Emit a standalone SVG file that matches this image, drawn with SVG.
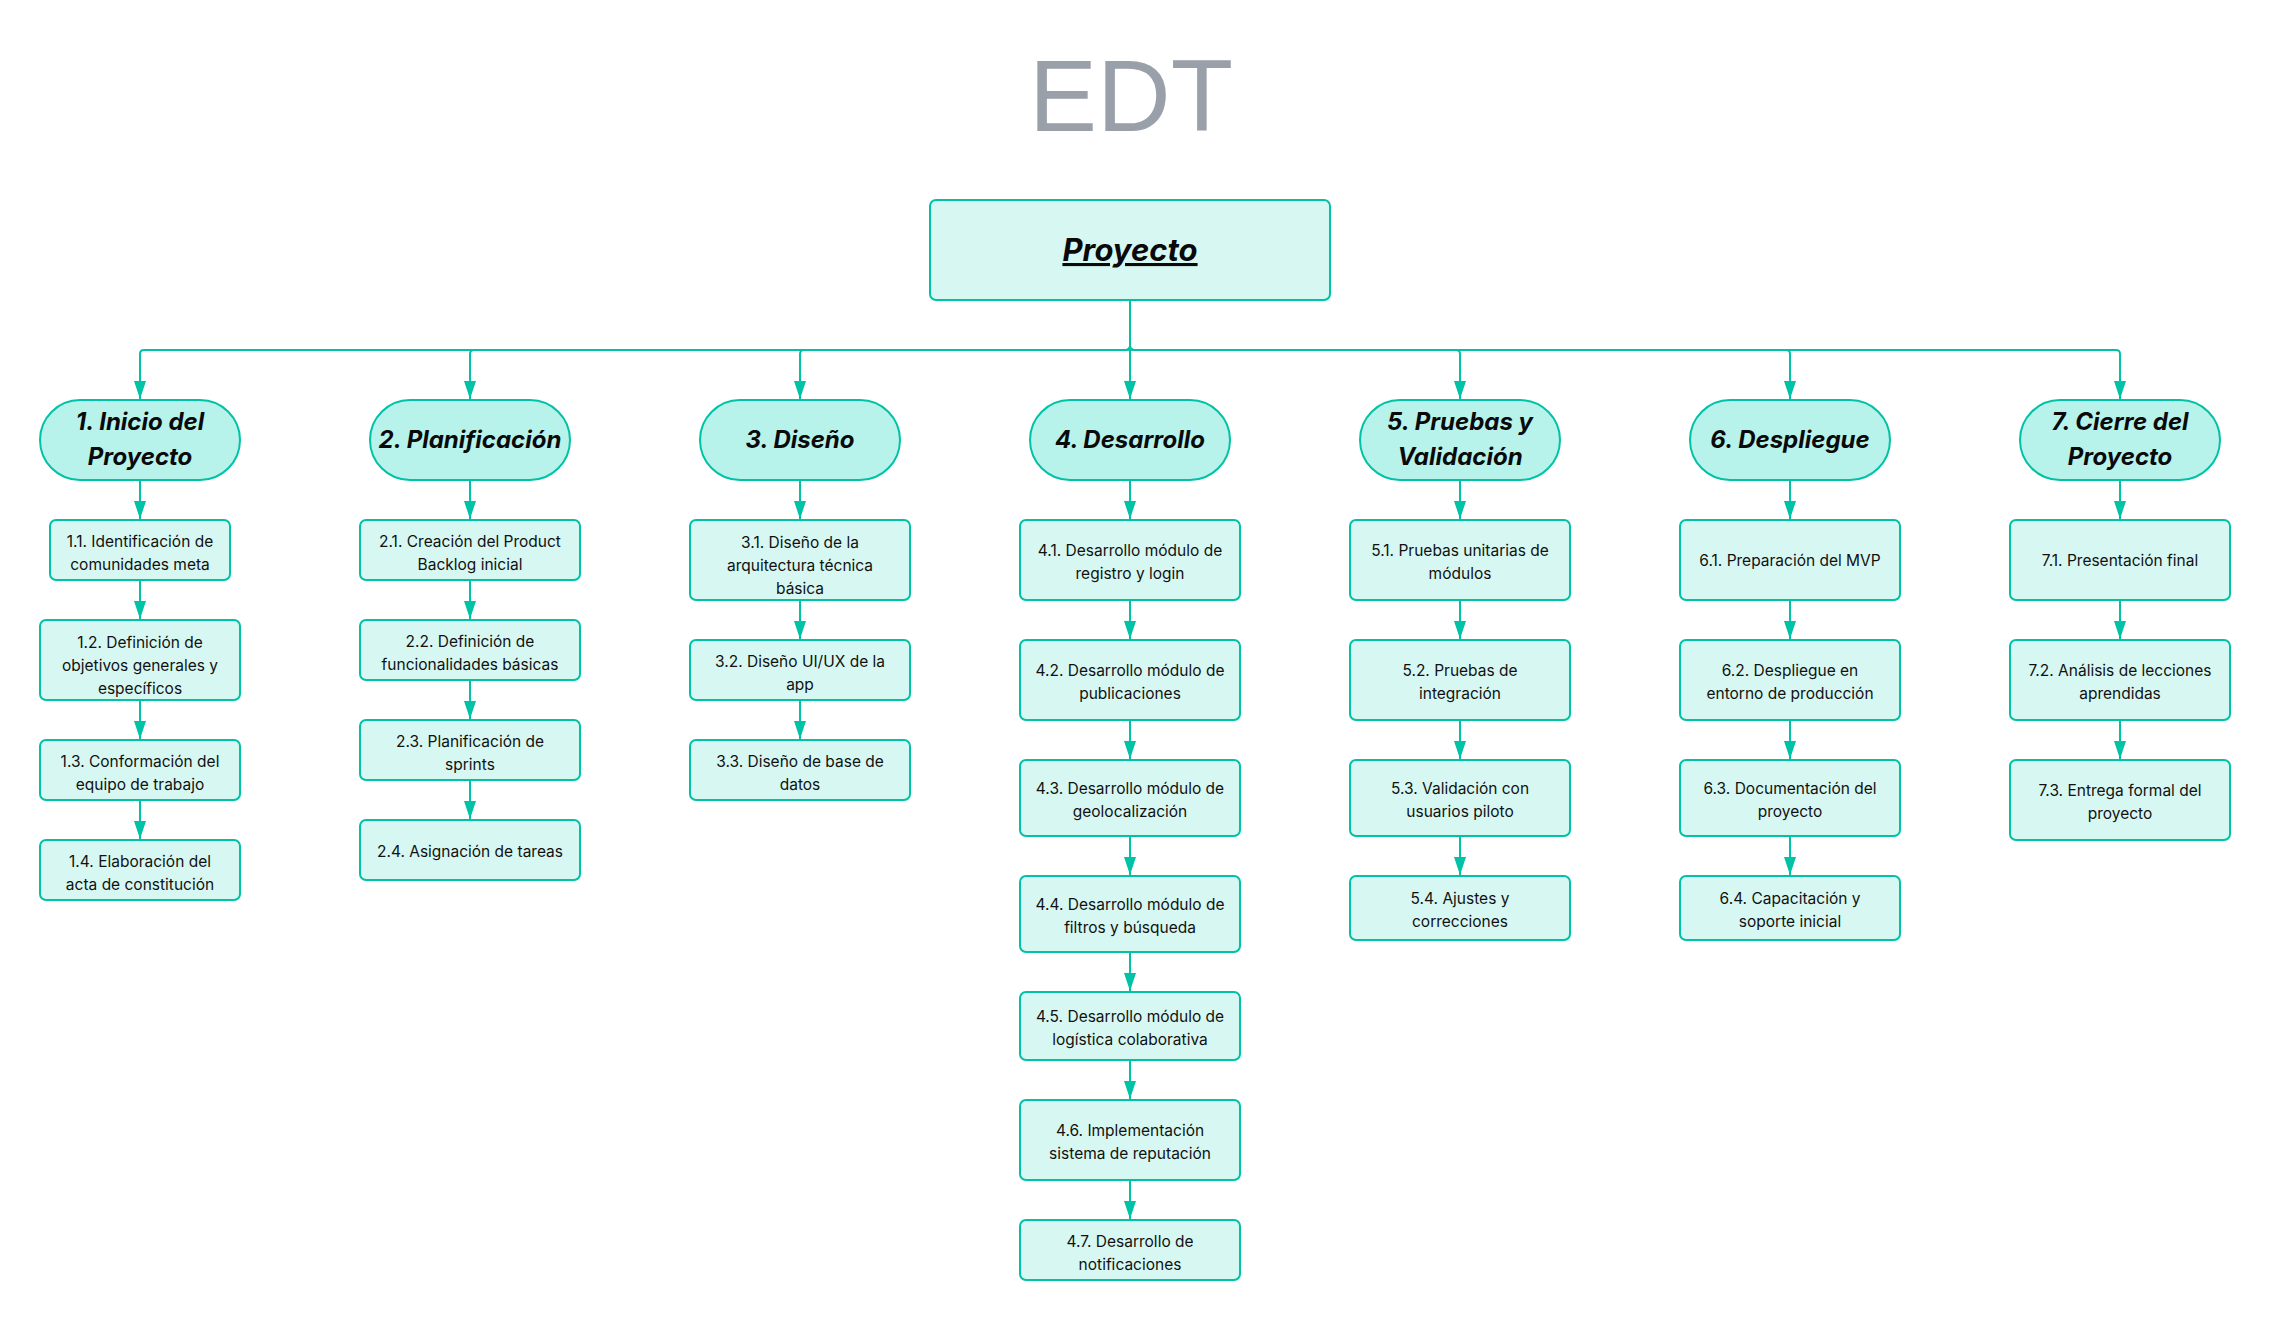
<svg xmlns="http://www.w3.org/2000/svg" width="2269" height="1320" viewBox="0 0 2269 1320">
<defs>
<marker id="arr" markerUnits="userSpaceOnUse" viewBox="0 0 18 12" markerWidth="18" markerHeight="12" refX="18" refY="6" orient="auto">
<path d="M0,0 L18,6 L0,12 Z" fill="#00c2a6"/>
</marker>
<style>
.c{fill:none;stroke:#00c2a6;stroke-width:2;marker-end:url(#arr)}
.b{fill:#d7f8f2;stroke:#00c2a6;stroke-width:2}
.p{fill:#b7f3ea;stroke:#00c2a6;stroke-width:2}
.t{font-family:Inter,"Liberation Sans",sans-serif;font-size:15.5px;fill:#111;text-anchor:middle}
.pt{font-family:Inter,"Liberation Sans",sans-serif;font-size:24px;font-weight:700;font-style:italic;fill:#0a0a0a;text-anchor:middle}
</style>
</defs>
<rect width="2269" height="1320" fill="#ffffff"/>
<text x="1131" y="131" font-family="'Liberation Sans',Arial,sans-serif" font-size="102" fill="#9aa0aa" text-anchor="middle">EDT</text>

<g id="connectors">
<path class="c" d="M1130,300 V346 Q1130,350 1126,350 H144 Q140,350 140,354 V399"/>
<path class="c" d="M1130,300 V346 Q1130,350 1126,350 H474 Q470,350 470,354 V399"/>
<path class="c" d="M1130,300 V346 Q1130,350 1126,350 H804 Q800,350 800,354 V399"/>
<path class="c" d="M1130,300 V399"/>
<path class="c" d="M1130,300 V346 Q1130,350 1134,350 H1456 Q1460,350 1460,354 V399"/>
<path class="c" d="M1130,300 V346 Q1130,350 1134,350 H1786 Q1790,350 1790,354 V399"/>
<path class="c" d="M1130,300 V346 Q1130,350 1134,350 H2116 Q2120,350 2120,354 V399"/>
<path class="c" d="M140,480 V519"/><path class="c" d="M140,580 V619"/><path class="c" d="M140,700 V739"/><path class="c" d="M140,800 V839"/>
<path class="c" d="M470,480 V519"/><path class="c" d="M470,580 V619"/><path class="c" d="M470,680 V719"/><path class="c" d="M470,780 V819"/>
<path class="c" d="M800,480 V519"/><path class="c" d="M800,600 V639"/><path class="c" d="M800,700 V739"/>
<path class="c" d="M1130,480 V519"/><path class="c" d="M1130,600 V639"/><path class="c" d="M1130,720 V759"/><path class="c" d="M1130,836 V875"/><path class="c" d="M1130,952 V991"/><path class="c" d="M1130,1060 V1099"/><path class="c" d="M1130,1180 V1219"/>
<path class="c" d="M1460,480 V519"/><path class="c" d="M1460,600 V639"/><path class="c" d="M1460,720 V759"/><path class="c" d="M1460,836 V875"/>
<path class="c" d="M1790,480 V519"/><path class="c" d="M1790,600 V639"/><path class="c" d="M1790,720 V759"/><path class="c" d="M1790,836 V875"/>
<path class="c" d="M2120,480 V519"/><path class="c" d="M2120,600 V639"/><path class="c" d="M2120,720 V759"/>
</g>

<g id="proyecto">
<rect class="b" x="930" y="200" width="400" height="100" rx="6"/>
<text x="1130" y="261" font-family="Inter,'Liberation Sans',sans-serif" font-size="31" font-weight="700" font-style="italic" fill="#0a0a0a" text-anchor="middle" text-decoration="underline">Proyecto</text>
</g>

<g id="n1"><rect class="p" x="40" y="400" width="200" height="80" rx="40"/><text class="pt" x="140" y="430">1. Inicio del</text><text class="pt" x="140" y="465">Proyecto</text></g>
<g id="n2"><rect class="p" x="370" y="400" width="200" height="80" rx="40"/><text class="pt" x="470" y="448">2. Planificación</text></g>
<g id="n3"><rect class="p" x="700" y="400" width="200" height="80" rx="40"/><text class="pt" x="800" y="448">3. Diseño</text></g>
<g id="n4"><rect class="p" x="1030" y="400" width="200" height="80" rx="40"/><text class="pt" x="1130" y="448">4. Desarrollo</text></g>
<g id="n5"><rect class="p" x="1360" y="400" width="200" height="80" rx="40"/><text class="pt" x="1460" y="430">5. Pruebas y</text><text class="pt" x="1460" y="465">Validación</text></g>
<g id="n6"><rect class="p" x="1690" y="400" width="200" height="80" rx="40"/><text class="pt" x="1790" y="448">6. Despliegue</text></g>
<g id="n7"><rect class="p" x="2020" y="400" width="200" height="80" rx="40"/><text class="pt" x="2120" y="430">7. Cierre del</text><text class="pt" x="2120" y="465">Proyecto</text></g>

<g id="n1_1"><rect class="b" x="50" y="520" width="180" height="60" rx="6"/><text class="t" x="140" y="547">1.1. Identificación de</text><text class="t" x="140" y="570">comunidades meta</text></g>
<g id="n1_2"><rect class="b" x="40" y="620" width="200" height="80" rx="6"/><text class="t" x="140" y="647.5">1.2. Definición de</text><text class="t" x="140" y="670.5">objetivos generales y</text><text class="t" x="140" y="693.5">específicos</text></g>
<g id="n1_3"><rect class="b" x="40" y="740" width="200" height="60" rx="6"/><text class="t" x="140" y="767">1.3. Conformación del</text><text class="t" x="140" y="790">equipo de trabajo</text></g>
<g id="n1_4"><rect class="b" x="40" y="840" width="200" height="60" rx="6"/><text class="t" x="140" y="867">1.4. Elaboración del</text><text class="t" x="140" y="890">acta de constitución</text></g>

<g id="n2_1"><rect class="b" x="360" y="520" width="220" height="60" rx="6"/><text class="t" x="470" y="547">2.1. Creación del Product</text><text class="t" x="470" y="570">Backlog inicial</text></g>
<g id="n2_2"><rect class="b" x="360" y="620" width="220" height="60" rx="6"/><text class="t" x="470" y="647">2.2. Definición de</text><text class="t" x="470" y="670">funcionalidades básicas</text></g>
<g id="n2_3"><rect class="b" x="360" y="720" width="220" height="60" rx="6"/><text class="t" x="470" y="747">2.3. Planificación de</text><text class="t" x="470" y="770">sprints</text></g>
<g id="n2_4"><rect class="b" x="360" y="820" width="220" height="60" rx="6"/><text class="t" x="470" y="857">2.4. Asignación de tareas</text></g>

<g id="n3_1"><rect class="b" x="690" y="520" width="220" height="80" rx="6"/><text class="t" x="800" y="547.5">3.1. Diseño de la</text><text class="t" x="800" y="570.5">arquitectura técnica</text><text class="t" x="800" y="593.5">básica</text></g>
<g id="n3_2"><rect class="b" x="690" y="640" width="220" height="60" rx="6"/><text class="t" x="800" y="667">3.2. Diseño UI/UX de la</text><text class="t" x="800" y="690">app</text></g>
<g id="n3_3"><rect class="b" x="690" y="740" width="220" height="60" rx="6"/><text class="t" x="800" y="767">3.3. Diseño de base de</text><text class="t" x="800" y="790">datos</text></g>

<g id="n4_1"><rect class="b" x="1020" y="520" width="220" height="80" rx="6"/><text class="t" x="1130" y="556">4.1. Desarrollo módulo de</text><text class="t" x="1130" y="579">registro y login</text></g>
<g id="n4_2"><rect class="b" x="1020" y="640" width="220" height="80" rx="6"/><text class="t" x="1130" y="676">4.2. Desarrollo módulo de</text><text class="t" x="1130" y="699">publicaciones</text></g>
<g id="n4_3"><rect class="b" x="1020" y="760" width="220" height="76" rx="6"/><text class="t" x="1130" y="794">4.3. Desarrollo módulo de</text><text class="t" x="1130" y="817">geolocalización</text></g>
<g id="n4_4"><rect class="b" x="1020" y="876" width="220" height="76" rx="6"/><text class="t" x="1130" y="910">4.4. Desarrollo módulo de</text><text class="t" x="1130" y="933">filtros y búsqueda</text></g>
<g id="n4_5"><rect class="b" x="1020" y="992" width="220" height="68" rx="6"/><text class="t" x="1130" y="1022">4.5. Desarrollo módulo de</text><text class="t" x="1130" y="1045">logística colaborativa</text></g>
<g id="n4_6"><rect class="b" x="1020" y="1100" width="220" height="80" rx="6"/><text class="t" x="1130" y="1136">4.6. Implementación</text><text class="t" x="1130" y="1159">sistema de reputación</text></g>
<g id="n4_7"><rect class="b" x="1020" y="1220" width="220" height="60" rx="6"/><text class="t" x="1130" y="1247">4.7. Desarrollo de</text><text class="t" x="1130" y="1270">notificaciones</text></g>

<g id="n5_1"><rect class="b" x="1350" y="520" width="220" height="80" rx="6"/><text class="t" x="1460" y="556">5.1. Pruebas unitarias de</text><text class="t" x="1460" y="579">módulos</text></g>
<g id="n5_2"><rect class="b" x="1350" y="640" width="220" height="80" rx="6"/><text class="t" x="1460" y="676">5.2. Pruebas de</text><text class="t" x="1460" y="699">integración</text></g>
<g id="n5_3"><rect class="b" x="1350" y="760" width="220" height="76" rx="6"/><text class="t" x="1460" y="794">5.3. Validación con</text><text class="t" x="1460" y="817">usuarios piloto</text></g>
<g id="n5_4"><rect class="b" x="1350" y="876" width="220" height="64" rx="6"/><text class="t" x="1460" y="904">5.4. Ajustes y</text><text class="t" x="1460" y="927">correcciones</text></g>

<g id="n6_1"><rect class="b" x="1680" y="520" width="220" height="80" rx="6"/><text class="t" x="1790" y="565.5">6.1. Preparación del MVP</text></g>
<g id="n6_2"><rect class="b" x="1680" y="640" width="220" height="80" rx="6"/><text class="t" x="1790" y="676">6.2. Despliegue en</text><text class="t" x="1790" y="699">entorno de producción</text></g>
<g id="n6_3"><rect class="b" x="1680" y="760" width="220" height="76" rx="6"/><text class="t" x="1790" y="794">6.3. Documentación del</text><text class="t" x="1790" y="817">proyecto</text></g>
<g id="n6_4"><rect class="b" x="1680" y="876" width="220" height="64" rx="6"/><text class="t" x="1790" y="904">6.4. Capacitación y</text><text class="t" x="1790" y="927">soporte inicial</text></g>

<g id="n7_1"><rect class="b" x="2010" y="520" width="220" height="80" rx="6"/><text class="t" x="2120" y="565.5">7.1. Presentación final</text></g>
<g id="n7_2"><rect class="b" x="2010" y="640" width="220" height="80" rx="6"/><text class="t" x="2120" y="676">7.2. Análisis de lecciones</text><text class="t" x="2120" y="699">aprendidas</text></g>
<g id="n7_3"><rect class="b" x="2010" y="760" width="220" height="80" rx="6"/><text class="t" x="2120" y="796">7.3. Entrega formal del</text><text class="t" x="2120" y="819">proyecto</text></g>
</svg>
